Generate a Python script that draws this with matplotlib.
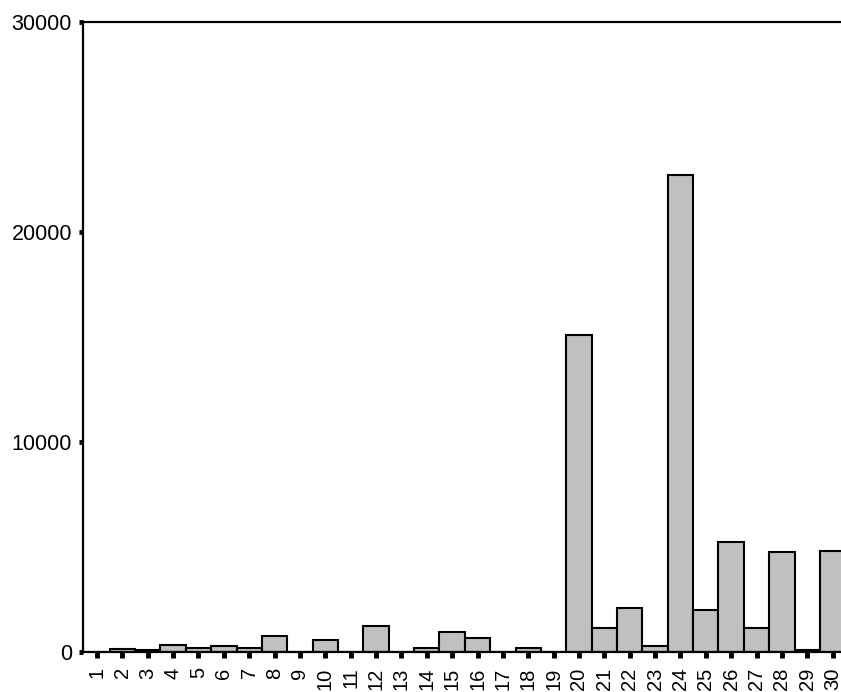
import matplotlib
matplotlib.use('Agg')
import matplotlib.pyplot as plt

plt.rcParams['font.family'] = ['Liberation Sans', 'DejaVu Sans']

# bar values
categories = list(range(1, 31))
values = [0, 150, 80, 350, 180, 280, 180, 760, 0, 570,
          0, 1240, 0, 180, 950, 670, 0, 180, 0, 15100,
          1140, 2090, 290, 22700, 1980, 5230, 1140, 4750, 90, 4830]
yticks = [0, 10000, 20000, 30000]

fig = plt.figure(figsize=(8.41, 6.92), dpi=100)
ax = fig.add_axes([0.0987, 0.0578, 0.9013, 0.9104])

ax.bar(categories, values, width=1.0, color='#c0c0c0',
       edgecolor='black', linewidth=1.5, zorder=2)

ax.set_xlim(0.448, 30.33)
ax.set_ylim(0, 30000)
ax.set_yticks(yticks)
ax.set_yticklabels([str(v) for v in yticks], fontsize=15.5)
ax.set_xticks(categories)
ax.set_xticklabels([str(c) for c in categories], fontsize=14.5, rotation=90)

ax.spines['right'].set_visible(False)
for s in ['left', 'top', 'bottom']:
    ax.spines[s].set_linewidth(1.6)
    ax.spines[s].set_zorder(3)

ax.tick_params(axis='y', direction='out', length=3, width=3.5, pad=5)
ax.tick_params(axis='x', direction='out', length=4, width=3.5, pad=7)

fig.savefig('out.png', dpi=100, facecolor='white')
